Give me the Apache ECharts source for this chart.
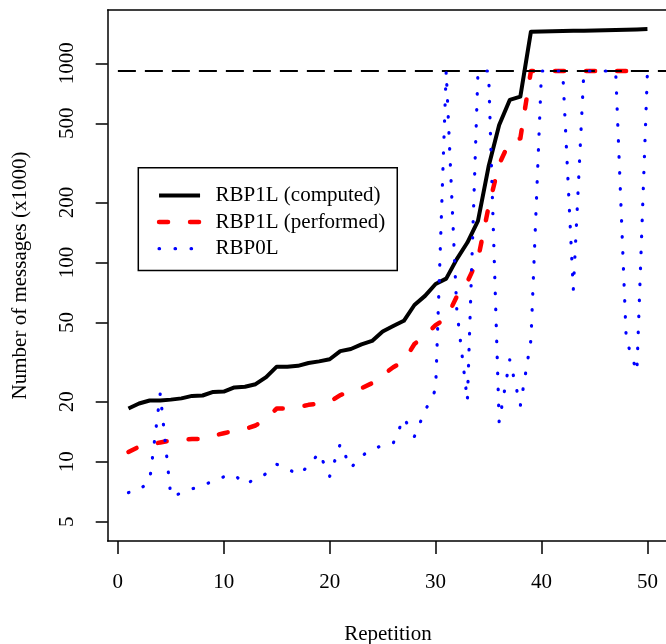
<!DOCTYPE html>
<html>
<head>
<meta charset="utf-8">
<script src="https://cdn.jsdelivr.net/npm/echarts@6/dist/echarts.min.js"></script>
<style>
html,body{margin:0;padding:0;background:#fff;overflow:hidden;width:666px;height:644px;}
#chart{width:690px;height:644px;}
</style>
</head>
<body>
<div id="chart"></div>
<script>
// ---- data ----
const repetitions = [1,2,3,4,5,6,7,8,9,10,11,12,13,14,15,16,17,18,19,20,21,22,23,24,25,26,27,28,29,30,31,32,33,34,35,36,37,38,39,40,41,42,43,44,45,46,47,48,49,50];
const computed = [18.5,19.6,20.3,20.3,20.5,20.8,21.4,21.5,22.4,22.5,23.6,23.8,24.5,26.6,30.0,30.0,30.3,31.3,31.9,32.7,35.9,36.8,38.8,40.4,45.1,48.0,51.0,61.2,68,78,83,104,126,162,303,490,655,680,1442,1446,1449,1452,1456,1459,1462,1466,1470,1474,1480,1486];
const performed = [11.2,11.9,12.2,12.5,12.8,12.9,13.0,13.0,13.5,13.9,14.3,14.6,15.2,16.5,18.5,18.5,18.8,19.3,19.6,20.0,21.6,22.5,23.4,24.8,27.2,29.8,32.0,39.0,43.0,48.5,52.5,67.5,80,104,190,312,405,420,915,915,915,915,915,915,915,915,915,915,915,915];
const rbp0l = [7.0,7.2,8.0,22,6.7,6.95,7.3,7.6,8.0,8.4,8.6,7.7,8.2,8.7,9.7,9.25,8.6,9.5,11.1,8.45,12.3,9.3,10.7,11.5,12.1,12.4,16.6,13.4,18,23,915,58,20.2,915,915,15.8,32.5,19.1,40.8,915,915,915,73,915,915,915,915,41,28.3,915];
const limitLevel = 915;
const limitRange = [0, 51.96];
const xTicks = [0,10,20,30,40,50];
const yTicks = [5,10,20,50,100,200,500,1000];
const seriesNames = ['RBP1L (computed)','RBP1L (performed)','RBP0L'];
const xTitle = 'Repetition';
const yTitle = 'Number of messages (x1000)';

// ---- chart ----
const FONT = '"Liberation Serif", "Times New Roman", serif';
const FS = 21;
const yMin = 4.0, yMax = 1852;
const pairs = arr => repetitions.map((r, i) => [r, arr[i]]);
const frame = {color: '#000', width: 1.5};

const chart = echarts.init(document.getElementById('chart'), null, {renderer: 'canvas'});
const option = {
  animation: false,
  backgroundColor: '#ffffff',
  grid: {left: 107.7, top: 10, width: 560.5, height: 531, show: false, containLabel: false,
         outerBoundsMode: 'none'},
  xAxis: [
    {
      type: 'value', min: -0.96, max: 51.96,
      axisLine: {show: true, onZero: false, lineStyle: frame}, splitLine: {show: false},
      axisTick: {show: true, length: 13, customValues: xTicks, lineStyle: frame},
      axisLabel: {customValues: xTicks, margin: 31, color: '#000', fontFamily: FONT, fontSize: FS},
      name: xTitle, nameLocation: 'middle', nameGap: 83,
      nameTextStyle: {color: '#000', fontFamily: FONT, fontSize: FS}
    },
    {
      type: 'value', position: 'top', min: -0.96, max: 51.96,
      axisLine: {show: true, onZero: false, lineStyle: frame},
      axisTick: {show: false}, axisLabel: {show: false}, splitLine: {show: false}
    }
  ],
  yAxis: [
    {
      type: 'log', logBase: 10, min: yMin, max: yMax,
      axisLine: {show: false}, axisTick: {show: false}, axisLabel: {show: false}, splitLine: {show: false}
    },
    {
      type: 'value', position: 'left', min: Math.log10(yMin), max: Math.log10(yMax),
      axisLine: {show: true, onZero: false, lineStyle: frame}, splitLine: {show: false},
      axisTick: {show: true, length: 12, customValues: yTicks.map(v => Math.log10(v)), lineStyle: frame},
      axisLabel: {customValues: yTicks.map(v => Math.log10(v)), rotate: 90, margin: 30,
                  color: '#000', fontFamily: FONT, fontSize: FS,
                  formatter: v => String(Math.round(Math.pow(10, v)))},
      name: yTitle, nameLocation: 'middle', nameGap: 77, nameRotate: 90,
      nameTextStyle: {color: '#000', fontFamily: FONT, fontSize: FS}
    }
  ],
  legend: {
    orient: 'vertical', left: 138.3, top: 167.7,
    padding: [17.3, 12, 11.3, 18.5],
    itemWidth: 41, itemHeight: 14, itemGap: 5.6,
    borderColor: '#000', borderWidth: 1.5, borderRadius: 0, backgroundColor: '#fff',
    data: seriesNames,
    itemStyle: {opacity: 0},
    lineStyle: {width: 'inherit'},
    formatter: name => '{g|}' + name,
    textStyle: {color: '#000', fontFamily: FONT, fontSize: FS, rich: {g: {width: 10.5}}}
  },
  series: [
    {name: seriesNames[0], type: 'line', yAxisIndex: 0, data: pairs(computed), symbol: 'none',
     itemStyle: {color: '#000'},
     lineStyle: {color: '#000', width: 4, join: 'round'}},
    {name: seriesNames[1], type: 'line', yAxisIndex: 0, data: pairs(performed), symbol: 'none',
     itemStyle: {color: '#ff0000'},
     lineStyle: {color: '#ff0000', width: 4.5, type: [9, 22], cap: 'round', join: 'round'}},
    {name: 'limit', type: 'line', yAxisIndex: 0, data: limitRange.map(x => [x, limitLevel]), symbol: 'none',
     lineStyle: {color: '#000', width: 2, type: [18, 9]}},
    {name: seriesNames[2], type: 'line', yAxisIndex: 0, data: pairs(rbp0l), symbol: 'none',
     itemStyle: {color: '#0000ff'},
     lineStyle: {color: '#0000ff', width: 3.2, type: [0.5, 15.5], cap: 'round', join: 'round'}}
  ]
};
chart.setOption(option);
</script>
</body>
</html>
